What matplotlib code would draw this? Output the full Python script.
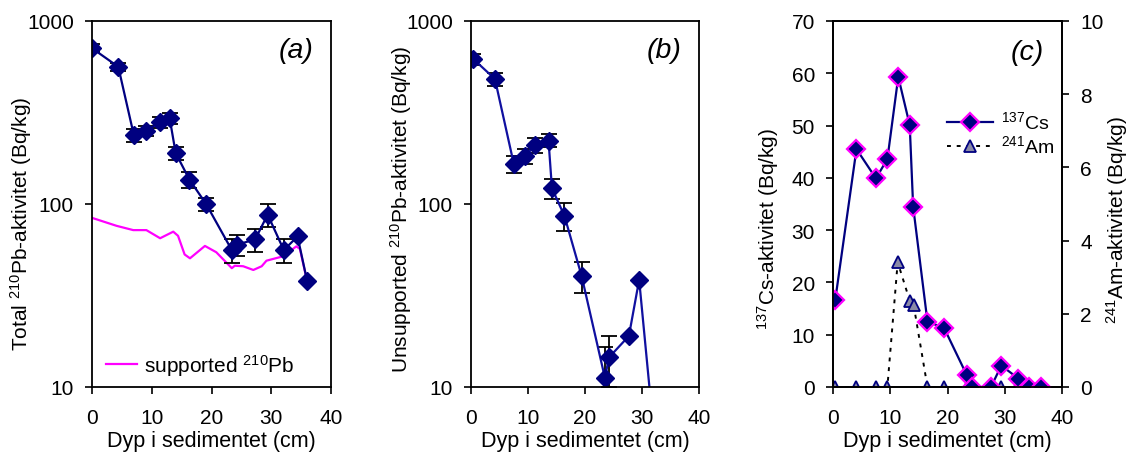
import numpy as np
import matplotlib
matplotlib.use('Agg')
import matplotlib.pyplot as plt
from matplotlib.ticker import FixedLocator, NullLocator, FuncFormatter

plt.rcParams['font.family'] = ['Liberation Sans', 'DejaVu Sans']
plt.rcParams['mathtext.fontset'] = 'custom'
plt.rcParams['mathtext.rm'] = 'Liberation Sans'
plt.rcParams['mathtext.it'] = 'Liberation Sans:italic'
plt.rcParams['font.size'] = 15

# (a) total 210Pb
depth_tot = [0.0, 4.4, 7.0, 9.1, 11.3, 13.0, 14.0, 16.3, 19.1, 23.4, 24.3, 27.3, 29.4, 32.1, 34.4, 36.0]
pb_tot = [710, 562, 238, 251, 279, 294, 190, 136, 100, 56, 60, 64, 87.5, 56, 66.5, 38]
pb_tot_err = [35, 28, 19, 17, 18, 19, 15, 13, 8.5, 8.4, 7.8, 9.0, 12.2, 8.4, 0, 0]

# supported 210Pb
depth_sup = [0.0, 4.1, 6.9, 9.1, 11.4, 13.6, 14.4, 15.5, 16.4, 18.9, 20.8, 23.4, 23.9,
             25.3, 27.0, 28.4, 29.2, 32.0, 34.2, 34.8, 36.1]
pb_sup = [84, 76, 72, 72, 65, 70.6, 67, 53, 50.5, 59, 54.5, 44.6, 46,
          45.7, 43.6, 45.7, 49, 51.8, 58.7, 56.8, 36.6]

# (b) unsupported 210Pb
depth_uns = [0.4, 4.2, 7.5, 9.5, 11.2, 13.6, 14.2, 16.4, 19.4, 23.5, 24.2, 27.7, 29.5, 32.1, 34.4]
pb_uns = [620, 482, 166, 182, 210, 222, 122, 86, 40.5, 11.2, 14.5, 19, 38.5, 5.5, 7.5]
pb_uns_err = [43, 39, 18, 17, 19, 18, 15, 15, 7.7, 5.3, 4.5, 0, 0, 0, 0]

# (c) 137Cs and 241Am
depth_c = [0.4, 4.1, 7.5, 9.5, 11.4, 13.4, 14.0, 16.5, 19.4, 23.4, 24.3, 27.6, 29.4, 32.4, 34.3, 36.4]
cs137 = [16.7, 45.5, 39.9, 43.6, 59.3, 50.1, 34.5, 12.5, 11.3, 2.2, 0, 0, 4.1, 1.6, 0, 0]
depth_am = [0.4, 4.1, 7.5, 9.5, 11.3, 13.4, 14.1, 16.5, 19.4, 23.4, 24.2, 27.6, 29.4, 32.2, 34.3, 36.4]
am241 = [0, 0, 0, 0, 3.41, 2.36, 2.23, 0, 0, 0, 0, 0, 0, 0, 0, 0]

xticks = [0, 10, 20, 30, 40]
NAVY = '#000080'
W, H = 1129, 456


def box(l, r, t, b):
    return [l / W, 1 - b / H, (r - l) / W, (b - t) / H]


def style_axes(ax):
    for sp in ax.spines.values():
        sp.set_linewidth(1.3)
    ax.tick_params(direction='out', length=5, width=1.2, top=False, right=False,
                   labelsize=15)
    ax.tick_params(axis='x', pad=10)
    ax.tick_params(axis='y', pad=8)
    ax.set_xlim(0, 40)
    ax.set_xticks(xticks)


def log_axes(ax):
    ax.set_yscale('log')
    ax.set_ylim(10, 1000)
    ax.yaxis.set_major_locator(FixedLocator([10, 100, 1000]))
    ax.yaxis.set_minor_locator(NullLocator())
    ax.yaxis.set_major_formatter(FuncFormatter(lambda v, p: f'{v:.0f}'))


fig = plt.figure(figsize=(W / 100, H / 100), dpi=100)

# panel (a)
ax1 = fig.add_axes(box(92, 331, 22, 388))
ax1.plot(depth_sup, pb_sup, color='#ff00ff', lw=1.6, label=r'supported $^{210}$Pb')
ax1.errorbar(depth_tot, pb_tot, yerr=pb_tot_err, fmt='none', ecolor='black',
             elinewidth=1.3, capsize=6, capthick=1.3)
ax1.plot(depth_tot, pb_tot, color=NAVY, lw=1.6, marker='D', ms=9, mfc=NAVY, mec=NAVY)
log_axes(ax1)
style_axes(ax1)
ax1.legend(loc='center left', bbox_to_anchor=(0.059, 0.06), frameon=False,
           handlelength=1.5, handletextpad=0.3, borderpad=0, borderaxespad=0, fontsize=15)
ax1.text(0.855, 0.92, '(a)', transform=ax1.transAxes, fontsize=20.5, style='italic',
         ha='center', va='center')

# panel (b)
ax2 = fig.add_axes(box(471, 699, 22, 388))
ax2.errorbar(depth_uns, pb_uns, yerr=pb_uns_err, fmt='none', ecolor='black',
             elinewidth=1.3, capsize=6, capthick=1.3)
ax2.plot(depth_uns, pb_uns, color='#1010a0', lw=1.6, marker='D', ms=9, mfc=NAVY, mec=NAVY)
log_axes(ax2)
style_axes(ax2)
ax2.text(0.845, 0.92, '(b)', transform=ax2.transAxes, fontsize=20.5, style='italic',
         ha='center', va='center')

# panel (c)
ax3 = fig.add_axes(box(833, 1062, 22, 388))
ax4 = ax3.twinx()
ax4.plot(depth_am, am241, color='black', lw=1.4, linestyle=(0, (2, 3)),
         marker='^', ms=8, mfc='#8a8aa6', mec=NAVY, mew=1.3, label=r'$^{241}$Am')
ax3.plot(depth_c, cs137, color=NAVY, lw=1.6, marker='D', ms=9, mfc=NAVY, mec='#ff00ff',
         mew=1.6, label=r'$^{137}$Cs')
ax3.set_ylim(0, 70)
ax3.set_yticks(range(0, 71, 10))
ax4.set_ylim(0, 10)
ax4.set_yticks(range(0, 11, 2))
style_axes(ax3)
for sp in ax4.spines.values():
    sp.set_linewidth(1.3)
ax4.tick_params(direction='out', length=5, width=1.2, pad=8, labelsize=15)
ax3.set_zorder(ax4.get_zorder() + 1)
ax3.patch.set_visible(False)
h3, l3 = ax3.get_legend_handles_labels()
h4, l4 = ax4.get_legend_handles_labels()
ax3.legend(h3 + h4, l3 + l4, loc='upper left', bbox_to_anchor=(0.498, 0.755), frameon=False,
           handlelength=2.35, handletextpad=0.45, labelspacing=0.1, borderpad=0,
           borderaxespad=0, fontsize=14)
ax3.text(0.85, 0.915, '(c)', transform=ax3.transAxes, fontsize=20.5, style='italic',
         ha='center', va='center')

# axis titles
for ax in (ax1, ax2, ax3):
    ax.set_xlabel('Dyp i sedimentet (cm)', fontsize=15.5, labelpad=2)

fig.text(21 / W, 1 - 224 / H, r'Total $^{210}$Pb-aktivitet (Bq/kg)', rotation=90,
         ha='center', va='center', fontsize=15)
fig.text(401 / W, 1 - 209 / H, r'Unsupported $^{210}$Pb-aktivitet (Bq/kg)', rotation=90,
         ha='center', va='center', fontsize=15)
fig.text(768 / W, 1 - 229 / H, r'$^{137}$Cs-aktivitet (Bq/kg)', rotation=90,
         ha='center', va='center', fontsize=15)
fig.text(1117 / W, 1 - 220 / H, r'$^{241}$Am-aktivitet (Bq/kg)', rotation=90,
         ha='center', va='center', fontsize=15)

fig.savefig('out.png', dpi=100)
